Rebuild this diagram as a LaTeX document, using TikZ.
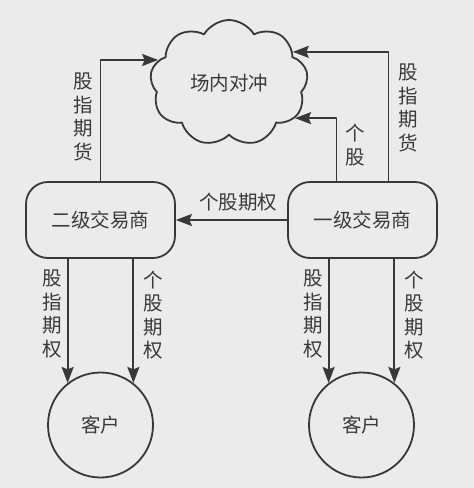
\documentclass[tikz,border=0pt]{standalone}
\usepackage{fontspec}
\setmainfont{Noto Sans CJK SC}
\usetikzlibrary{arrows.meta,shapes.symbols}
\definecolor{bgcol}{HTML}{EBEBEB}
\definecolor{linecol}{HTML}{383838}
\definecolor{txtcol}{HTML}{3A3A3A}
\tikzset{
  dealer/.style={draw=linecol, line width=1.8pt, rounded corners=22pt, minimum width=149pt, minimum height=76pt, inner sep=0pt},
  client/.style={draw=linecol, circle, line width=1.8pt, minimum size=105pt, inner sep=0pt},
  pool/.style={draw=linecol, cloud, cloud puffs=9, cloud puff arc=120, minimum width=158pt, minimum height=126pt, inner sep=0pt, line width=1.8pt},
  flow/.style={draw=linecol, line width=1.8pt, -{Stealth[length=16pt,width=12pt,inset=2.5pt]}},
  vlabel/.style={align=center, inner sep=0pt}
}

\begin{document}
\begin{tikzpicture}[x=1pt,y=-1pt,line join=round,every node/.style={text=txtcol,font=\fontsize{19.5}{23.5}\selectfont}]
  \fill[bgcol] (0,0) rectangle (474,488);
  \useasboundingbox (0,0) rectangle (474,488);
  % boxes
  \node[pool] (pool) at (229,83) {场内对冲};
  \node[dealer] (second) at (100.5,220) {二级交易商};
  \node[dealer] (first) at (362.5,220) {一级交易商};
  \node[client] (clientL) at (100.5,425) {客户};
  \node[client] (clientR) at (361.5,425) {客户};
  % hedging
  \draw[flow] (second.north) |- (pool.162);
  \draw[flow] ([xshift=-26pt]first.north) |- (pool.-28);
  \draw[flow] ([xshift=26pt]first.north) |- (pool.26);
  \draw[flow] (first.west) -- (second.east);
  % to clients
  \draw[flow] (clientL.128 |- second.south) -- (clientL.128);
  \draw[flow] (clientL.52 |- second.south) -- (clientL.52);
  \draw[flow] (clientR.128 |- first.south) -- (clientR.128);
  \draw[flow] (clientR.52 |- first.south) -- (clientR.52);
  % labels
  \node[vlabel] (futL) at (83,117) {股\\指\\期\\货};
  \node[vlabel] (stockR) at (355,145) {个\\股};
  \node[vlabel] (futR) at (408,108) {股\\指\\期\\货};
  \node (optMid) at (238,202) {个股期权};
  \node[vlabel] (idxL) at (52,314) {股\\指\\期\\权};
  \node[vlabel] (stkL) at (153,315) {个\\股\\期\\权};
  \node[vlabel] (idxR) at (313,314) {股\\指\\期\\权};
  \node[vlabel] (stkR) at (414,315) {个\\股\\期\\权};
\end{tikzpicture}
\end{document}
